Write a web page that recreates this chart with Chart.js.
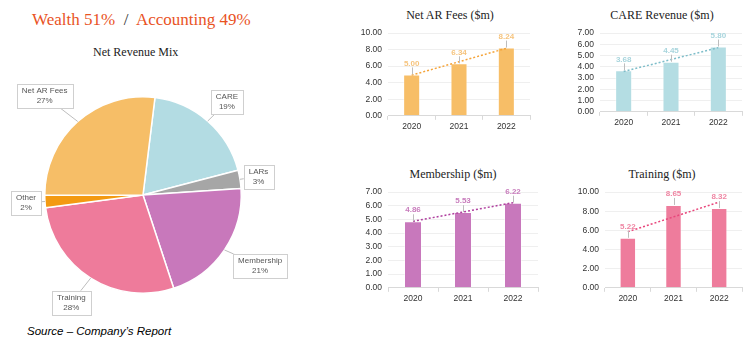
<!DOCTYPE html>
<html>
<head>
<meta charset="utf-8">
<script src="https://cdn.jsdelivr.net/npm/chart.js@4.4.1/dist/chart.umd.min.js"></script>
<style>
body { margin: 0; background: #fff; width: 751px; height: 353px; position: relative; overflow: hidden; }
.txt { position: absolute; white-space: pre; }
#headline { left: 32px; top: 10px; font: 17px "Liberation Serif", serif; color: #E9531F; }
#headline .sep { color: #333; }
#pieTitle { left: 93px; top: 45px; font: 12px "Liberation Serif", serif; color: #222; }
#source { left: 27px; top: 325px; font: italic 11.5px "Liberation Sans", sans-serif; color: #000; }
.ctitle { position: absolute; width: 200px; text-align: center; font: 12px/14px "Liberation Serif", serif; color: #222; }
canvas { position: absolute; }
</style>
</head>
<body>
<div id="headline" class="txt">Wealth 51%  <span class="sep">/</span>  Accounting 49%</div>
<div id="pieTitle" class="txt">Net Revenue Mix</div>
<div id="source" class="txt">Source – Company’s Report</div>

<canvas id="pie" width="300" height="262" style="left:0;top:60px"></canvas>

<div class="ctitle" style="left:350px;top:8px">Net AR Fees ($m)</div>
<canvas id="netAr" width="200" height="134" style="left:336px;top:0"></canvas>

<div class="ctitle" style="left:562px;top:8px">CARE Revenue ($m)</div>
<canvas id="care" width="200" height="130" style="left:548px;top:0"></canvas>

<div class="ctitle" style="left:353px;top:167px">Membership ($m)</div>
<canvas id="membership" width="208" height="148" style="left:336px;top:158px"></canvas>

<div class="ctitle" style="left:562px;top:167px">Training ($m)</div>
<canvas id="training" width="195" height="148" style="left:553px;top:158px"></canvas>

<script>
// dados do gráfico de pizza (sentido horário a partir do topo)
const pieLabels = ['CARE', 'LARs', 'Membership', 'Training', 'Other', 'Net AR Fees'];
const pieValues = [19, 3, 21, 28, 2, 27];
const pieColors = ['#B3DCE3', '#A6A6A6', '#C878BB', '#EE7B9B', '#F39A12', '#F6BE67'];
// distância (px) entre a borda da pizza e a caixa do rótulo
const calloutGap = [13, 4, 16, 17, 4, 22];

// dados dos gráficos de barras
const years = ['2020', '2021', '2022'];
const netArFees = [5.00, 6.34, 8.24];
const netArTrend = [4.91, 6.53, 8.15];
const careRevenue = [3.68, 4.45, 5.80];
const careTrend = [3.58, 4.64, 5.70];
const membership = [4.86, 5.53, 6.22];
const membershipTrend = [4.86, 5.54, 6.22];
const training = [5.22, 8.65, 8.32];
const trainingTrend = [5.85, 7.40, 8.95];

const sans = '"Liberation Sans", Arial, sans-serif';

// Caixas de rótulo com linha guia para a pizza
const calloutPlugin = {
    id: 'callouts',
    afterDatasetsDraw(chart) {
        const ctx = chart.ctx;
        const meta = chart.getDatasetMeta(0);
        ctx.save();
        ctx.font = '8px ' + sans;
        ctx.textAlign = 'center';
        ctx.textBaseline = 'middle';
        meta.data.forEach((arc, i) => {
            const mid = (arc.startAngle + arc.endAngle) / 2;
            const dx = Math.cos(mid), dy = Math.sin(mid);
            const r = arc.outerRadius;
            const lines = [pieLabels[i], pieValues[i] + '%'];
            const w = Math.max(...lines.map(t => ctx.measureText(t).width)) + 10;
            const h = 24;
            const ax = arc.x + dx * (r + calloutGap[i]);
            const ay = arc.y + dy * (r + calloutGap[i]);
            const bx = ax + dx * w / 2, by = ay + dy * h / 2;

            ctx.strokeStyle = '#bdbdbd';
            ctx.lineWidth = 1;
            ctx.beginPath();
            ctx.moveTo(arc.x + dx * r, arc.y + dy * r);
            ctx.lineTo(bx, by);
            ctx.stroke();

            ctx.fillStyle = '#fff';
            ctx.fillRect(bx - w / 2, by - h / 2, w, h);
            ctx.strokeStyle = '#cfcfcf';
            ctx.strokeRect(Math.round(bx - w / 2) + 0.5, Math.round(by - h / 2) + 0.5, Math.round(w), h);

            ctx.fillStyle = '#555';
            ctx.fillText(lines[0], bx, by - 5);
            ctx.fillText(lines[1], bx, by + 5);
        });
        ctx.restore();
    }
};

new Chart(document.getElementById('pie'), {
    type: 'pie',
    data: {
        labels: pieLabels,
        datasets: [{
            data: pieValues,
            backgroundColor: pieColors,
            borderColor: '#fff',
            borderWidth: 1.5
        }]
    },
    options: {
        responsive: false,
        animation: false,
        rotation: 7,
        layout: { padding: { left: 44, right: 58, top: 34, bottom: 26 } },
        plugins: { legend: { display: false }, tooltip: { enabled: false } }
    },
    plugins: [calloutPlugin]
});

// Rótulos de valor acima das barras
const valueLabelPlugin = {
    id: 'valueLabels',
    afterDatasetsDraw(chart, args, opts) {
        const ctx = chart.ctx;
        const meta = chart.getDatasetMeta(1);
        ctx.save();
        ctx.font = 'bold 8px ' + sans;
        ctx.textAlign = 'center';
        ctx.textBaseline = 'bottom';
        meta.data.forEach((bar, i) => {
            const v = chart.data.datasets[1].data[i];
            ctx.strokeStyle = '#bdbdbd';
            ctx.lineWidth = 1;
            ctx.beginPath();
            ctx.moveTo(Math.round(bar.x) + 0.5, bar.y);
            ctx.lineTo(Math.round(bar.x) + 0.5, bar.y - 7);
            ctx.stroke();
            ctx.fillStyle = opts.color;
            ctx.fillText(v.toFixed(2), bar.x, bar.y - 7);
        });
        ctx.restore();
    }
};

function graficoBarras(id, valores, tendencia, corBarra, corRotulo, corTendencia, maxY, passo, topo) {
    new Chart(document.getElementById(id), {
        type: 'bar',
        data: {
            labels: years,
            datasets: [{
                type: 'line',
                data: tendencia,
                borderColor: corTendencia,
                borderWidth: 1.5,
                borderDash: [2, 2],
                pointRadius: 0,
                fill: false,
                order: 0
            }, {
                data: valores,
                backgroundColor: corBarra,
                borderColor: 'rgba(255,255,255,0.45)',
                borderWidth: 1,
                barPercentage: 0.36,
                categoryPercentage: 1,
                order: 1
            }]
        },
        options: {
            responsive: false,
            animation: false,
            layout: { padding: { top: topo, right: 6, left: 0, bottom: 0 } },
            plugins: {
                legend: { display: false },
                tooltip: { enabled: false },
                valueLabels: { color: corRotulo }
            },
            scales: {
                x: {
                    grid: { drawOnChartArea: false, tickLength: 4, color: '#d9d9d9' },
                    border: { color: '#d9d9d9' },
                    ticks: { font: { size: 8.5, family: sans }, color: '#333', padding: 2 }
                },
                y: {
                    min: 0,
                    max: maxY,
                    ticks: {
                        stepSize: passo,
                        autoSkip: false,
                        callback: v => v.toFixed(2),
                        font: { size: 8.5, family: sans },
                        color: '#333',
                        padding: 6
                    },
                    grid: { color: '#efefef', drawTicks: false },
                    border: { display: false },
                    afterFit(scale) { scale.width = 52; }
                }
            }
        },
        plugins: [valueLabelPlugin]
    });
}

graficoBarras('netAr', netArFees, netArTrend, '#F7BE67', '#F6C47E', '#F5A43A', 10, 2, 33);
graficoBarras('care', careRevenue, careTrend, '#B4DDE3', '#A8D5DD', '#7DBDC9', 7, 1, 33);
graficoBarras('membership', membership, membershipTrend, '#C878BC', '#C87CBC', '#B0409F', 7, 1, 34);
graficoBarras('training', training, trainingTrend, '#EE7C9C', '#EF86A3', '#E8467B', 10, 2, 34);
</script>
</body>
</html>
